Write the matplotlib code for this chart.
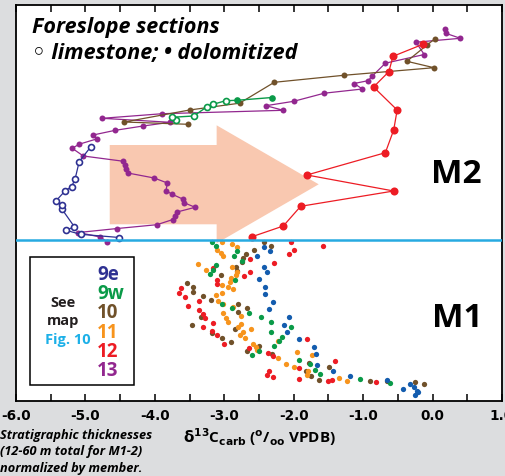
import matplotlib
matplotlib.use('Agg')
import matplotlib.pyplot as plt
from matplotlib.patches import Polygon, Rectangle

# Section colours
c_9e = '#2e3192'
c_9e_m1 = '#135cae'
c_9w = '#0a9a48'
c_10 = '#70512a'
c_11 = '#f7941d'
c_12 = '#ed1c24'
c_13 = '#92278f'

# ---- M2: connected profiles (d13C, normalized height) ----
m2_9e_x = [-4.51, -5.07, -5.28, -5.16, -5.34, -5.34, -5.43, -5.29, -5.20, -5.15, -5.09, -4.92]
m2_9e_y = [163.2, 166.4, 170.4, 174.0, 191.7, 196.0, 199.4, 210.0, 214.0, 221.4, 239.0, 254.2]

m2_9w_x = [-3.70, -3.76, -3.44, -3.25, -3.16, -2.98, -2.82, -2.31]
m2_9w_y = [280.7, 283.4, 284.7, 293.9, 296.4, 300.0, 300.4, 303.2]
m2_9w_limestone = [True, True, True, True, True, True, False, False]

m2_10_x = [-3.52, -4.44, -3.50, -2.78, -2.28, -1.28, 0.02, -0.37, -0.08, 0.03]
m2_10_y = [276.4, 278.7, 290.7, 297.5, 318.4, 325.4, 333.0, 339.4, 355.7, 361.7]

m2_12_x = [-2.60, -2.15, -1.90, -0.56, -1.81, -0.68, -0.56, -0.51, -0.85, -0.63, -0.57, -0.14]
m2_12_y = [164.0, 174.7, 194.4, 209.7, 225.7, 248.0, 270.7, 290.7, 313.7, 329.0, 344.4, 356.4]

m2_13_x = [-4.69, -4.79, -5.10, -4.54, -3.97, -3.74, -3.71, -3.68, -3.42, -3.58, -3.59,
           -3.75, -3.84, -3.82, -4.01, -4.39, -4.41, -4.43, -4.46, -5.03, -5.19, -5.09,
           -4.84, -4.89, -4.57, -4.17, -3.78, -4.76, -3.89, -2.15, -2.40, -2.00, -1.56,
           -1.01, -1.13, -0.93, -0.87, -0.68, -0.12, -0.24, 0.40, 0.19, 0.18]
m2_13_y = [159.2, 163.7, 168.2, 172.2, 176.0, 181.2, 185.2, 188.7, 193.4, 198.0, 201.4,
           206.4, 210.0, 217.7, 222.7, 227.7, 231.5, 236.0, 239.5, 244.7, 252.4, 256.5,
           261.7, 265.7, 270.4, 274.7, 278.4, 282.4, 287.0, 290.4, 295.0, 299.4, 307.5,
           311.7, 317.2, 320.0, 324.5, 337.5, 346.2, 358.5, 362.4, 367.4, 371.7]

# ---- M1: dolomitized samples, points only ----
m1_9e_x = [-2.43, -2.34, -2.53, -2.43, -2.38, -2.50, -2.41, -2.41, -2.30, -2.36, -2.07, -2.14, -2.10,
           -1.93, -1.71, -1.68, -1.66, -1.43, -1.19, -0.65, -0.43, -0.33, -0.27, -0.23, -0.25, -0.21]
m1_9e_y = [154.0, 149.7, 145.0, 133.7, 128.4, 121.4, 113.7, 106.4, 98.7, 91.4, 83.7, 76.0, 69.0,
           61.7, 54.0, 46.4, 36.0, 29.4, 24.4, 20.4, 11.4, 17.0, 13.4, 10.0, 6.0, 9.0]

m1_9w_x = [-3.17, -3.12, -2.81, -2.86, -2.75, -3.12, -3.16, -3.21, -2.84, -3.04, -2.89, -2.64, -2.47, -2.32,
           -2.04, -2.33, -2.17, -2.21, -2.29, -2.50, -2.60, -1.93, -1.76, -1.69, -1.62, -1.05, -0.62]
m1_9w_y = [159.0, 154.7, 149.4, 144.7, 140.0, 135.4, 130.7, 126.4, 121.0, 96.4, 92.7, 88.0, 83.4, 78.4,
           74.0, 69.0, 64.0, 59.7, 55.0, 50.0, 45.4, 40.7, 36.4, 31.0, 26.7, 21.4, 18.0]

m1_10_x = [-2.43, -2.33, -2.57, -2.69, -2.73, -2.74, -2.83, -2.82, -3.05, -3.54, -3.45, -3.45, -3.30, -3.19,
           -2.80, -2.68, -2.80, -3.33, -3.47, -2.84, -3.17, -3.04, -2.90, -2.50, -2.67, -2.31, -1.78, -1.49,
           -1.82, -1.75, -1.64, -0.90, -0.66, -0.26, -0.13]
m1_10_y = [159.0, 155.0, 151.0, 146.7, 142.4, 139.0, 134.0, 130.0, 125.7, 117.4, 113.4, 109.0, 105.0, 100.7,
           96.4, 92.4, 88.4, 83.4, 75.4, 71.4, 67.4, 62.7, 59.0, 55.0, 50.0, 46.4, 37.7, 33.7,
           29.7, 25.0, 20.7, 19.7, 19.4, 18.4, 17.0]

m1_11_x = [-3.04, -2.89, -2.81, -3.11, -3.05, -3.02, -3.38, -2.89, -3.27, -2.82, -2.83, -2.90, -2.92, -3.04,
           -2.95, -2.87, -3.03, -3.12, -3.09, -3.02, -2.87, -3.02, -2.76, -2.97, -2.94, -2.76, -2.80, -2.61,
           -2.73, -2.77, -2.70, -2.23, -2.59, -2.54, -2.53, -1.95, -1.73, -2.22, -2.11, -2.00, -1.79, -1.81,
           -1.35, -1.23]
m1_11_y = [159.0, 156.4, 153.4, 150.7, 147.4, 144.7, 136.4, 133.4, 130.7, 128.4, 125.7, 122.4, 119.0, 115.7,
           113.4, 111.4, 108.0, 105.4, 99.7, 96.7, 93.4, 88.0, 84.7, 82.4, 79.0, 76.7, 74.0, 71.4,
           68.4, 65.7, 62.4, 59.7, 57.0, 54.0, 50.7, 48.4, 45.4, 42.4, 37.0, 34.0, 30.0, 25.7,
           23.0, 20.0]

m1_12_x = [-2.04, -1.58, -2.00, -2.07, -2.63, -2.29, -3.16, -2.63, -2.72, -3.11, -3.11, -3.63, -3.65, -3.56,
           -3.36, -3.52, -3.36, -3.30, -3.28, -3.16, -3.30, -3.18, -3.11, -3.00, -2.64, -2.37, -2.30, -1.81,
           -1.41, -1.92, -2.35, -2.39, -2.30, -1.92, -1.50, -1.45, -0.82]
m1_12_y = [159.0, 154.7, 150.4, 146.4, 142.0, 137.4, 133.0, 129.0, 124.7, 120.7, 116.4, 112.4, 108.0, 103.7,
           99.7, 95.0, 90.7, 86.7, 82.4, 78.0, 74.0, 69.7, 65.4, 56.7, 52.4, 48.0, 44.7, 61.4,
           40.0, 32.4, 29.7, 25.7, 23.7, 21.7, 19.4, 20.4, 18.7]

member_boundary = 160.3
x_ticks = [-6, -5, -4, -3, -2, -1, 0, 1]
x_tick_labels = ['-6.0', '-5.0', '-4.0', '-3.0', '-2.0', '-1.0', '0.0', '1.0']
legend_names = ['9e', '9w', '10', '11', '12', '13']
legend_colors = [c_9e, c_9w, c_10, c_11, c_12, c_13]

W, H = 506, 476
fig = plt.figure(figsize=(W / 100, H / 100), dpi=100, facecolor='#dcdddf')
ax = fig.add_axes([16 / W, 1 - 400.7 / H, 486 / W, 395.7 / H])
ax.set_facecolor('white')


def fx(px):
    return px / W


def fy(py):
    return 1 - py / H


# big pale arrow behind the data
arrow = Polygon(list(zip([-4.65, -3.11, -3.11, -1.64, -3.11, -3.11, -4.65],
                         [255.7, 255.7, 275.4, 216.4, 157.4, 176.4, 176.4])),
                closed=True, facecolor='#f9c8b0', edgecolor='none', zorder=1)
ax.add_patch(arrow)

# M1 points
ms1 = 3.8
for xs, ys, c in [(m1_10_x, m1_10_y, c_10), (m1_11_x, m1_11_y, c_11), (m1_12_x, m1_12_y, c_12),
                  (m1_9w_x, m1_9w_y, c_9w), (m1_9e_x, m1_9e_y, c_9e_m1)]:
    ax.plot(xs, ys, 'o', color=c, ms=ms1, mew=0, zorder=3)

# M2 profiles
ax.plot(m2_13_x, m2_13_y, '-o', color=c_13, lw=0.9, ms=4.3, mew=0, zorder=3)
ax.plot(m2_10_x, m2_10_y, '-o', color=c_10, lw=0.9, ms=4.3, mew=0, zorder=3)
ax.plot(m2_9w_x, m2_9w_y, '-', color=c_9w, lw=1.0, zorder=3)
for x, y, ls in zip(m2_9w_x, m2_9w_y, m2_9w_limestone):
    if ls:
        ax.plot(x, y, 'o', mfc='white', mec=c_9w, mew=1.2, ms=4.3, zorder=4)
    else:
        ax.plot(x, y, 'o', color=c_9w, mew=0, ms=4.8, zorder=4)
ax.plot(m2_9e_x, m2_9e_y, '-o', color=c_9e, lw=0.9, mfc='white', mec=c_9e, mew=1.2, ms=4.3, zorder=4)
ax.plot(m2_12_x, m2_12_y, '-o', color=c_12, lw=0.9, ms=5.8, mew=0, zorder=5)

ax.axhline(member_boundary, color='#27aae1', lw=1.8, zorder=6)

ax.set_xlim(-6, 1)
ax.set_ylim(0, 395.7)
ax.set_xticks(x_ticks)
ax.set_xticklabels(x_tick_labels)
ax.set_xticks([t + 0.5 for t in x_ticks[:-1]], minor=True)
ax.set_yticks([])
ax.tick_params(axis='x', which='both', direction='in', length=5, width=1.1, top=True, bottom=True, pad=6)
for lab in ax.get_xticklabels():
    lab.set_fontweight('bold')
    lab.set_fontsize(9.8)
    lab.set_fontfamily('DejaVu Sans')
for s in ax.spines.values():
    s.set_linewidth(1.3)

# header text
fig.text(fx(32), fy(33.5), 'Foreslope sections', fontsize=15.5, style='italic', weight='bold',
         family=['Open Sans', 'DejaVu Sans'], va='baseline', ha='left')
fig.text(fx(32), fy(58.5), '\u25e6 limestone; \u2022 dolomitized', fontsize=15.5, style='italic',
         weight='bold', family=['Open Sans', 'DejaVu Sans'], va='baseline', ha='left')

# member labels
fig.text(fx(456), fy(183.3), 'M2', fontsize=24, weight='bold', family='Open Sans', ha='center', va='baseline')
fig.text(fx(457), fy(327.3), 'M1', fontsize=24, weight='bold', family='Open Sans', ha='center', va='baseline')

# legend box
ax.add_patch(Rectangle((fx(30), fy(385)), 104 / W, 127.7 / H, transform=fig.transFigure,
                       facecolor='white', edgecolor='black', lw=1.1, zorder=10))
fig.text(fx(63.5), fy(306.7), 'See', fontsize=10.5, weight='bold', family='Open Sans',
         color='#231f20', ha='center', va='baseline', zorder=11)
fig.text(fx(63.5), fy(325), 'map', fontsize=10.5, weight='bold', family='Open Sans',
         color='#231f20', ha='center', va='baseline', zorder=11)
fig.text(fx(67.5), fy(344.3), 'Fig. 10', fontsize=10.5, weight='bold', family='Open Sans',
         color='#1cb0e8', ha='center', va='baseline', zorder=11)
for i, (name, c) in enumerate(zip(legend_names, legend_colors)):
    fig.text(fx(97), fy(280 + i * 19.2), name, fontsize=13.5, weight='bold', family='Open Sans',
             color=c, ha='left', va='baseline', zorder=11)

# axis label
fig.text(fx(259), fy(443.5), r'$\mathbf{\delta}^{\mathbf{13}}$C$_{\mathbf{carb}}$ ($^{\mathbf{o}}$/$_{\mathbf{oo}}$ VPDB)',
         fontsize=11, weight='bold', family='Open Sans', ha='center', va='baseline')

# note
for i, line in enumerate(['Stratigraphic thicknesses', '(12-60 m total for M1-2)', 'normalized by member.']):
    fig.text(fx(0), fy(439 + i * 16.5), line, fontsize=9.2, style='italic', weight='bold',
             family='Open Sans', ha='left', va='baseline')

fig.savefig('out.png', dpi=100, facecolor=fig.get_facecolor())
